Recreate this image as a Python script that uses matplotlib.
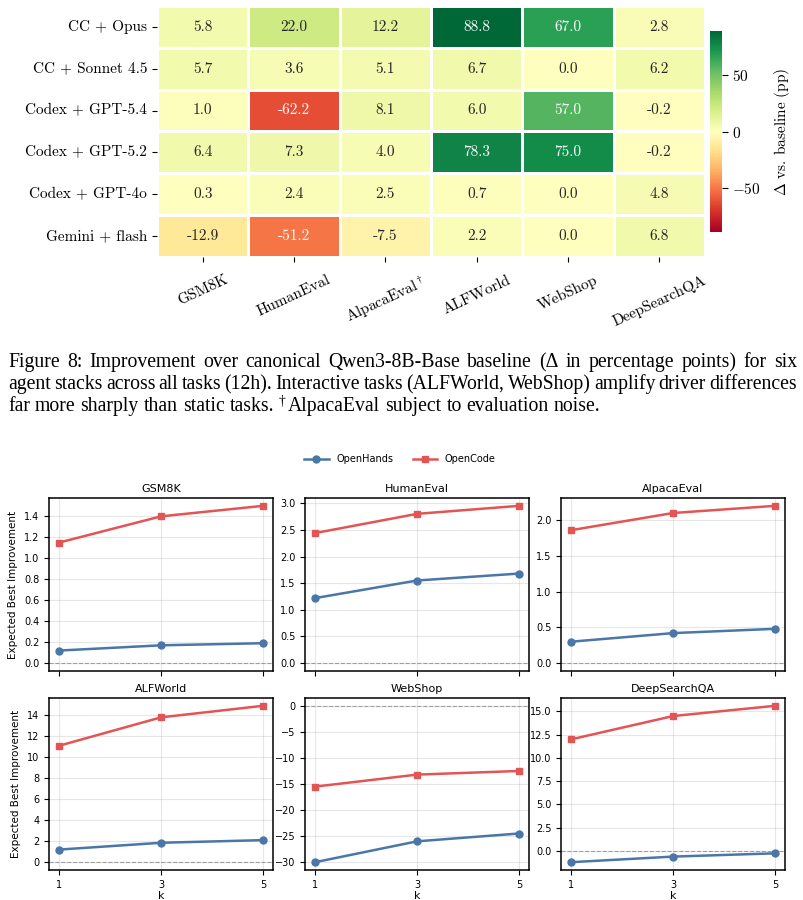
import numpy as np
import matplotlib
matplotlib.use("Agg")
import matplotlib.pyplot as plt
from matplotlib.ticker import MultipleLocator
import seaborn as sns

plt.rcParams['mathtext.fontset'] = 'cm'
plt.rcParams['axes.unicode_minus'] = True

# heatmap data
stacks = ["CC + Opus", "CC + Sonnet 4.5", "Codex + GPT-5.4", "Codex + GPT-5.2",
          "Codex + GPT-4o", "Gemini + flash"]
tasks = ["GSM8K", "HumanEval", r"AlpacaEval$^\dagger$", "ALFWorld", "WebShop", "DeepSearchQA"]
delta = np.array([
    [5.8, 22.0, 12.2, 88.8, 67.0, 2.8],
    [5.7, 3.6, 5.1, 6.7, 0.0, 6.2],
    [1.0, -62.2, 8.1, 6.0, 57.0, -0.2],
    [6.4, 7.3, 4.0, 78.3, 75.0, -0.2],
    [0.3, 2.4, 2.5, 0.7, 0.0, 4.8],
    [-12.9, -51.2, -7.5, 2.2, 0.0, 6.8],
])

# expected best improvement vs k
k = [1, 3, 5]
panels = ["GSM8K", "HumanEval", "AlpacaEval", "ALFWorld", "WebShop", "DeepSearchQA"]
openhands = [
    [0.12, 0.17, 0.19],
    [1.22, 1.55, 1.68],
    [0.30, 0.42, 0.48],
    [1.2, 1.85, 2.1],
    [-30.0, -26.0, -24.5],
    [-1.2, -0.6, -0.25],
]
opencode = [
    [1.15, 1.40, 1.50],
    [2.44, 2.80, 2.95],
    [1.86, 2.10, 2.20],
    [11.1, 13.8, 14.9],
    [-15.5, -13.2, -12.5],
    [12.0, 14.5, 15.6],
]
ystep = [0.2, 0.5, 0.5, 2, 5, 2.5]

W, H = 804, 900
fig = plt.figure(figsize=(W / 100, H / 100), dpi=100)


def box(x0, y0, x1, y1):
    return [x0 / W, 1 - y1 / H, (x1 - x0) / W, (y1 - y0) / H]


# ---- heatmap ----
hax = fig.add_axes(box(157, 6, 705, 257))
cax = fig.add_axes(box(710, 31, 722, 232))
vmax = np.abs(delta).max()
sns.heatmap(delta, ax=hax, cbar_ax=cax, cmap="RdYlGn", center=0, vmin=-vmax, vmax=vmax,
            annot=True, fmt=".1f", linewidths=0.8, linecolor="white",
            annot_kws={"fontfamily": "cmr10", "fontsize": 11},
            xticklabels=tasks, yticklabels=stacks)
hax.set_yticklabels(stacks, rotation=0, fontfamily="cmr10", fontsize=11)
hax.set_xticklabels(tasks, rotation=25, ha="center", fontfamily="cmr10", fontsize=11)
hax.tick_params(axis="x", pad=8)
cax.set_yticks([-50, 0, 50], labels=["$-50$", "$0$", "$50$"], fontsize=11)
cax.set_ylabel(r"$\Delta$ vs. baseline (pp)", fontfamily="cmr10", fontsize=11, labelpad=8)
cax.tick_params(length=4)

# ---- caption ----
cap_size = 14.2
rend = fig.canvas.get_renderer()


def width_of(s):
    t = fig.text(0, 0, s, fontfamily="Liberation Serif", fontsize=cap_size)
    w = t.get_window_extent(rend).width
    t.remove()
    return w


def justify(line, ybase, x0=8, x1=797):
    words = line.split(" ")
    ws = [width_of(w) for w in words]
    gap = (x1 - x0 - sum(ws)) / (len(words) - 1)
    x = x0
    for w, wd in zip(words, ws):
        fig.text(x / W, 1 - ybase / H, w, fontfamily="Liberation Serif",
                 fontsize=cap_size, va="baseline")
        x += wd + gap


justify("Figure 8: Improvement over canonical Qwen3-8B-Base baseline (\u0394 in percentage points) for six", 367)
justify("agent stacks across all tasks (12h). Interactive tasks (ALFWorld, WebShop) amplify driver differences", 389)
space = width_of("a a") - width_of("aa")
x = 8
for w in "far more sharply than static tasks.".split(" "):
    fig.text(x / W, 1 - 411 / H, w, fontfamily="Liberation Serif", fontsize=cap_size, va="baseline")
    x += width_of(w) + space
fig.text(x / W, 1 - 405 / H, "\u2020", fontfamily="Liberation Serif", fontsize=cap_size * 0.7,
         va="baseline")
x += 9
for w in "AlpacaEval subject to evaluation noise.".split(" "):
    fig.text(x / W, 1 - 411 / H, w, fontfamily="Liberation Serif", fontsize=cap_size, va="baseline")
    x += width_of(w) + space

# ---- k panels ----
blue = "#4A76A8"
red = "#E35555"
lefts = [49, 305, 561]
rows = [(498, 671), (698, 870)]
axes = []
for i, name in enumerate(panels):
    r, c = divmod(i, 3)
    x0 = lefts[c]
    y0, y1 = rows[r]
    ax = fig.add_axes(box(x0, y0, x0 + 224, y1), sharex=axes[0] if axes else None)
    axes.append(ax)
    ax.axhline(0, color="gray", ls="--", lw=0.8, alpha=0.7)
    ax.plot(k, openhands[i], marker="o", color=blue, lw=1.8, ms=5, label="OpenHands")
    ax.plot(k, opencode[i], marker="s", color=red, lw=1.8, ms=5, label="OpenCode")
    ax.set_title(name, fontsize=8, pad=4)
    ax.grid(True, alpha=0.3)
    ax.set_xticks(k)
    ax.yaxis.set_major_locator(MultipleLocator(ystep[i]))
    ax.tick_params(labelsize=7)
    for s in ax.spines.values():
        s.set_linewidth(1.1)
    if r == 0:
        ax.tick_params(labelbottom=False)
    else:
        ax.set_xlabel("k", fontsize=8, labelpad=1)
    if c == 0:
        ax.set_ylabel("Expected Best Improvement", fontsize=7.5)

h, l = axes[0].get_legend_handles_labels()
fig.legend(h, l, loc="center", bbox_to_anchor=(400 / W, 1 - 459 / H), ncol=2,
           frameon=False, fontsize=7, handlelength=2.5)

fig.savefig("out.png", dpi=100)
